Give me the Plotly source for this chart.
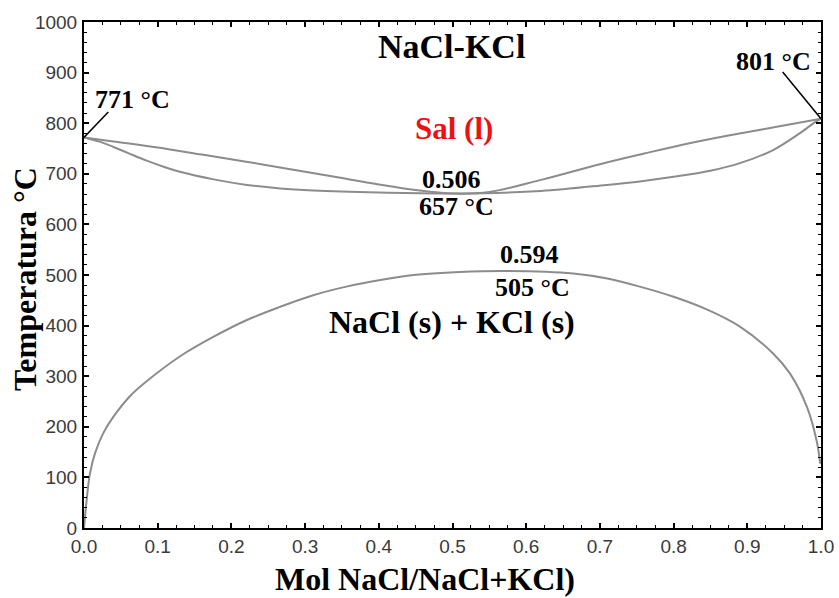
import plotly.graph_objects as go

# Liquidus (upper curve)
x_liq = [0.0, 0.04, 0.10, 0.16, 0.22, 0.28, 0.34, 0.40, 0.45, 0.50, 0.55, 0.62, 0.70, 0.76, 0.82, 0.88, 0.94, 1.0]
T_liq = [772, 764, 752, 738, 724, 709, 694, 679, 668, 661, 664, 688, 719, 740, 760, 777, 793, 809]

# Solidus (lower curve of the melting loop)
x_sol = [0.0, 0.02, 0.04, 0.06, 0.085, 0.11, 0.13, 0.176, 0.221, 0.266, 0.311, 0.40, 0.50, 0.62, 0.709, 0.754, 0.80, 0.85, 0.89, 0.935, 0.971, 0.99, 1.0]
T_sol = [772, 764, 753, 741, 726, 713, 704, 689, 678, 671, 667, 663, 661, 666, 678, 685, 694, 706, 721, 747, 780, 800, 809]

# Miscibility gap (solvus)
x_gap = [0.0, 0.0045, 0.0081, 0.015, 0.026, 0.040, 0.062, 0.085, 0.13, 0.176, 0.221, 0.266, 0.311, 0.356,
         0.402, 0.447, 0.51, 0.574, 0.664, 0.71, 0.754, 0.80, 0.845, 0.89, 0.935, 0.958, 0.981, 0.994, 0.999]
T_gap = [0, 68, 108, 148, 187, 220, 260, 290, 339, 378, 411, 437, 460, 477,
         490, 500, 506, 508, 503, 493, 477, 457, 432, 398, 345, 305, 239, 173, 127]

x_ticks = [0.0, 0.1, 0.2, 0.3, 0.4, 0.5, 0.6, 0.7, 0.8, 0.9, 1.0]
y_ticks = [0, 100, 200, 300, 400, 500, 600, 700, 800, 900, 1000]

curve_color = "#8c8c8c"
serif = "Liberation Serif, Times New Roman, serif"

fig = go.Figure()
for xs, ys in [(x_liq, T_liq), (x_sol, T_sol), (x_gap, T_gap)]:
    fig.add_trace(go.Scatter(x=xs, y=ys, mode="lines", line=dict(color=curve_color, width=2, shape="spline", smoothing=1.0),
                             showlegend=False, hoverinfo="skip"))

axis_common = dict(
    showgrid=False, zeroline=False, showline=True, linecolor="black", linewidth=2,
    mirror="allticks", ticks="inside", ticklen=5, tickwidth=1.5, tickcolor="black", automargin=False,
    tickfont=dict(family="Liberation Sans, Arial, sans-serif", size=19, color="#3a3a3a"),
)

fig.update_xaxes(range=[0, 1], tickvals=x_ticks, ticktext=[f"{v:.1f}" for v in x_ticks],
                 minor=dict(dtick=0.025, ticks="inside", ticklen=3, tickcolor="black", tickwidth=1.2),
                 **axis_common)
fig.update_yaxes(range=[0, 1000], tickvals=y_ticks,
                 minor=dict(dtick=20, ticks="inside", ticklen=3, tickcolor="black", tickwidth=1.2),
                 ticklabelstandoff=1,
                 **axis_common)

def txt(x, y, s, size, color="black", xref="x", yref="y", angle=0):
    fig.add_annotation(x=x, y=y, xref=xref, yref=yref, text=f"<b>{s}</b>", showarrow=False,
                       font=dict(family=serif, size=size, color=color), xanchor="center", yanchor="middle",
                       textangle=angle)

txt(0.499, 952, "NaCl-KCl", 34)
txt(0.502, 789, "Sal (l)", 31, color="#ee1111")
txt(0.499, 688, "0.506", 26)
txt(0.505, 636, "657 °C", 26)
txt(0.605, 540, "0.594", 26)
txt(0.609, 476, "505 °C", 26)
txt(0.499, 407, "NaCl (s) + KCl (s)", 32)
txt(0.066, 846, "771 °C", 26)
txt(0.935, 921, "801 °C", 26)

# leader lines
fig.add_shape(type="line", x0=x_liq[0], y0=T_liq[0], x1=0.033, y1=822, line=dict(color="black", width=1.5))
fig.add_shape(type="line", x0=x_liq[-1], y0=T_liq[-1], x1=0.948, y1=901, line=dict(color="black", width=1.5))

# axis titles
txt(-0.080, 0.492, "Temperatura °C", 32, xref="paper", yref="paper", angle=-90)
txt(0.463, -0.100, "Mol NaCl/NaCl+KCl)", 32, xref="paper", yref="paper")

fig.update_layout(width=839, height=598, margin=dict(l=84, r=18, t=22, b=70),
                  paper_bgcolor="white", plot_bgcolor="white")

fig.write_html("out.html")
